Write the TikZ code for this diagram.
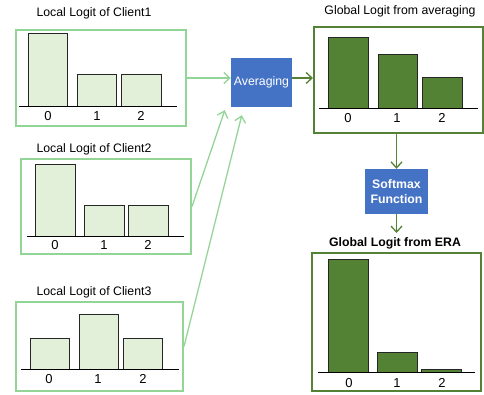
\documentclass[tikz,border=0pt]{standalone}
\usepackage{fontspec}
\setmainfont{Liberation Sans}
\usetikzlibrary{arrows.meta,calc}
\definecolor{lgreen}{HTML}{93D497}
\definecolor{lfill}{HTML}{E2EFD9}
\definecolor{dgreen}{HTML}{548235}
\definecolor{blu}{HTML}{4472C4}
\tikzset{
  lframe/.style={draw=lgreen,line width=2pt,minimum width=#1,inner sep=0pt},
  dframe/.style={draw=dgreen,line width=2pt,minimum width=#1,inner sep=0pt},
  bluebox/.style={fill=blu,text=white,inner sep=0pt,align=center,font=\fontsize{12.3}{14.5}\selectfont},
  ttl/.style={font=\fontsize{12.3}{14}\selectfont,inner sep=0pt},
  lbar/.style={fill=lfill,draw=black!85,line width=1pt},
  dbar/.style={fill=dgreen,draw=black!85,line width=1pt},
  baseln/.style={draw=black,line width=1pt},
  num/.style={font=\fontsize{13}{14}\selectfont,inner sep=0pt},
  larr/.style={draw=lgreen,line width=1.3pt,-{Straight Barb[length=6pt,width=11pt]}},
  darr/.style={draw=dgreen,line width=1.3pt,-{Straight Barb[length=6pt,width=11pt]}},
}
\begin{document}
\begin{tikzpicture}[x=1pt,y=-1pt]
\useasboundingbox (0,0) rectangle (484,394);
% frames
\node[lframe=170pt,minimum height=96pt] (c1) at (101,78) {};
\node[lframe=170pt,minimum height=95pt] (c2) at (106,206.5) {};
\node[lframe=167pt,minimum height=89pt] (c3) at (99.5,346.5) {};
\node[dframe=169pt,minimum height=106pt] (glob) at (398.5,80) {};
\node[dframe=169pt,minimum height=138pt] (era) at (396.5,322) {};
\node[bluebox,minimum width=61pt,minimum height=49pt] (avg) at (261.5,82.5) {Averaging};
\node[bluebox,minimum width=63pt,minimum height=45pt,font=\fontsize{12.3}{14.5}\selectfont\bfseries] (soft) at (396.5,191.5) {Softmax\\Function};
% titles
\node[ttl] (t1) at (94,13) {Local Logit of Client1};
\node[ttl] (t2) at (94,149) {Local Logit of Client2};
\node[ttl] (t3) at (94,292) {Local Logit of Client3};
\node[ttl] (tg) at (400,11) {Global Logit from averaging};
\node[ttl,font=\fontsize{12.3}{14}\selectfont\bfseries] (te) at (395,243) {Global Logit from ERA};
% client1 bars
\draw[lbar] (28,106) rectangle (67,33);
\draw[lbar] (77,106) rectangle (116,74);
\draw[lbar] (121,106) rectangle (161,74);
\draw[baseln] (19,106) -- (177,106);
\node[num] at (48,116) {0};
\node[num] at (97,116) {1};
\node[num] at (141,116) {2};
% client2 bars
\draw[lbar] (35,236) rectangle (75,164);
\draw[lbar] (84,236) rectangle (124,205);
\draw[lbar] (128,236) rectangle (168,205);
\draw[baseln] (27,236) -- (184,236);
\node[num] at (55,245) {0};
\node[num] at (104,245) {1};
\node[num] at (148,245) {2};
% client3 bars
\draw[lbar] (30,369) rectangle (69,338);
\draw[lbar] (79,369) rectangle (118,314);
\draw[lbar] (123,369) rectangle (162,338);
\draw[baseln] (21,369) -- (179,369);
\node[num] at (49,379) {0};
\node[num] at (98,379) {1};
\node[num] at (143,379) {2};
% global averaging bars
\draw[dbar] (328,108) rectangle (368,37);
\draw[dbar] (378,108) rectangle (417,54);
\draw[dbar] (422,108) rectangle (462,77);
\draw[baseln] (319,108) -- (478,108);
\node[num] at (348,118) {0};
\node[num] at (397,118) {1};
\node[num] at (442,118) {2};
% ERA bars
\draw[dbar] (328,372) rectangle (368,259);
\draw[dbar] (377,372) rectangle (417,352);
\draw[dbar] (421,372) rectangle (461,369);
\draw[baseln] (318,372) -- (475,372);
\node[num] at (349,383) {0};
\node[num] at (397,383) {1};
\node[num] at (442,383) {2};
% connectors
\coordinate (e2) at ($(avg.south west)+(-6,3)$);
\coordinate (e3) at ($(avg.south west)+(11,8)$);
\coordinate (eera) at (396.5,233);
\draw[larr] (c1.east) -- (avg.west |- c1.east);
\draw[larr] (c2.east) -- (e2);
\draw[larr] (c3.east) -- (e3);
\draw[darr] (avg.east |- c1.east) -- (glob.west |- c1.east);
\draw[darr] (soft.north |- glob.south) -- (soft.north);
\draw[darr] (soft.south) -- (eera);
\end{tikzpicture}
\end{document}
